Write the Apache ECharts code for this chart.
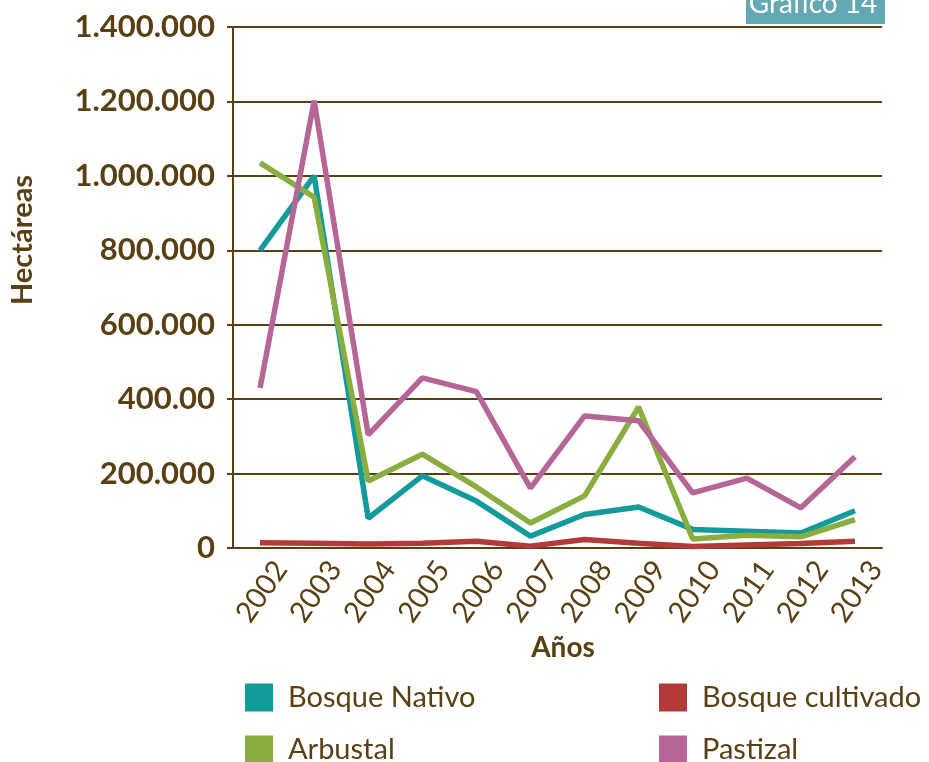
<!DOCTYPE html>
<html><head><meta charset="utf-8">
<script src="https://cdn.jsdelivr.net/npm/echarts@6/dist/echarts.min.js"></script>
<style>html,body{margin:0;padding:0;background:#fff}#c{width:929px;height:762px}</style>
</head><body><div id="c"></div>
<script>
const years = ["2002","2003","2004","2005","2006","2007","2008","2009","2010","2011","2012","2013"];
const yTickValues = [0,200000,400000,600000,800000,1000000,1200000,1400000];
const yTickLabels = ["0","200.000","400.00","600.000","800.000","1.000.000","1.200.000","1.400.000"];
const bosqueNativo = [800000,1000000,80000,194000,126000,32000,90000,110000,50000,45000,40000,100000];
const bosqueCultivado = [14000,13000,11000,13000,18000,5000,23000,13000,4000,8000,12000,18000];
const arbustal = [1035000,943000,180000,252000,164000,67000,140000,379000,24000,34000,30000,76000];
const pastizal = [430000,1202000,304000,457000,420000,161000,355000,342000,148000,188000,108000,245000];

const brown = '#5a3f12';
const font = 'Lato';
const chart = echarts.init(document.getElementById('c'));
function s(name, data, color){
  return {name, type:'line', data, symbol:'none', smooth:false,
    lineStyle:{color, width:5.5}, itemStyle:{color}, z: 3};
}
function lg(name, left, top){
  return {data:[name], left, top, padding:0, itemWidth:28, itemHeight:28, icon:'rect',
    textStyle:{color:brown, fontSize:29, fontFamily:font, padding:[0,0,0,10]}};
}
chart.setOption({
  animation:false,
  textStyle:{fontFamily:font},
  grid:{left:233, right:47, top:27, bottom:214},
  graphic:[
    {type:'rect', shape:{x:746,y:0,width:139,height:24}, style:{fill:'#62a9b3'}, z:10},
    {type:'text', x:813, y:4, style:{text:'Gráfico 14', fill:'#fff', font:'28px Lato', textAlign:'center', textVerticalAlign:'middle'}, z:11},
    {type:'text', x:563, y:648, style:{text:'Años', fill:brown, font:'bold 28px Lato', textAlign:'center', textVerticalAlign:'middle'}},
    {type:'text', x:23, y:240, rotation:Math.PI/2, style:{text:'Hectáreas', fill:brown, font:'bold 29px Lato', textAlign:'center', textVerticalAlign:'middle'}}
  ],
  legend:[
    lg('Bosque Nativo',245,683), lg('Arbustal',245,735),
    lg('Bosque cultivado',659,683), lg('Pastizal',659,735)
  ],
  xAxis:{type:'category', data:years, boundaryGap:true,
    axisLine:{lineStyle:{color:brown, width:2}}, axisTick:{show:false},
    axisLabel:{rotate:55, color:brown, fontSize:29, fontFamily:font, margin:46, interval:0,
      align:'center', verticalAlign:'middle', padding:[8,0,0,6]}},
  yAxis:{type:'value', min:0, max:1400000, interval:200000,
    axisLine:{show:true, lineStyle:{color:brown, width:2}},
    axisTick:{show:true, length:6, lineStyle:{color:brown, width:2}},
    splitLine:{lineStyle:{color:brown, width:2}},
    axisLabel:{color:brown, fontSize:31, fontFamily:font, fontWeight:'bold', margin:18,
      formatter:v=>{const i=yTickValues.indexOf(v); return i>=0?yTickLabels[i]:'';}}},
  series:[
    s('Bosque Nativo', bosqueNativo, '#139b9b'),
    s('Bosque cultivado', bosqueCultivado, '#b33a38'),
    s('Arbustal', arbustal, '#8aad3f'),
    s('Pastizal', pastizal, '#b56696')
  ]
});
</script></body></html>
